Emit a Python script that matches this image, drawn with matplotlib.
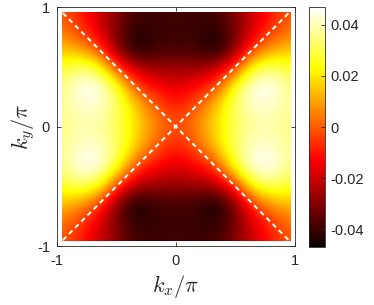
import numpy as np
import matplotlib
matplotlib.use("Agg")
import matplotlib.pyplot as plt
from matplotlib.patches import Rectangle

plt.rcParams["font.family"] = ["Liberation Sans", "DejaVu Sans"]
plt.rcParams["mathtext.fontset"] = "cm"
plt.rcParams["axes.unicode_minus"] = False

# grid in one quadrant (kx, ky >= 0), mirrored to the other three
k_quad = [0.0, 0.16, 0.32, 0.48, 0.64, 0.80, 0.96]

# each row: fixed ky, values for kx = k_quad
row_ky000 = [-0.003, 0.006, 0.017, 0.030, 0.038, 0.039, 0.035]
row_ky016 = [-0.009, -0.001, 0.015, 0.032, 0.042, 0.042, 0.036]
row_ky032 = [-0.017, -0.011, -0.003, 0.026, 0.047, 0.047, 0.035]
row_ky048 = [-0.026, -0.026, -0.022, -0.004, 0.028, 0.036, 0.028]
row_ky064 = [-0.039, -0.039, -0.047, -0.033, -0.003, 0.010, 0.015]
row_ky080 = [-0.040, -0.040, -0.043, -0.034, -0.018, -0.005, 0.004]
row_ky096 = [-0.039, -0.040, -0.039, -0.031, -0.019, -0.010, 0.000]

vmin, vmax = -0.047, 0.047
cbar_ticks = [-0.04, -0.02, 0, 0.02, 0.04]
cbar_labels = ["-0.04", "-0.02", "0", "0.02", "0.04"]
axis_ticks = [-1, 0, 1]

quad = np.array([row_ky000, row_ky016, row_ky032, row_ky048,
                 row_ky064, row_ky080, row_ky096])
half = np.hstack([quad[:, :0:-1], quad])
field = np.vstack([half[:0:-1, :], half])

step = k_quad[1] - k_quad[0]
edge = k_quad[-1]

fig = plt.figure(figsize=(3.74, 3.05), dpi=100)
ax = fig.add_axes([0.152, 0.193, 0.636, 0.784])
cax = fig.add_axes([0.826, 0.190, 0.043, 0.787])

im = ax.imshow(field, origin="lower", cmap="hot", vmin=vmin, vmax=vmax,
               interpolation="bicubic", aspect="auto",
               extent=[-edge - step / 2, edge + step / 2,
                       -edge - step / 2, edge + step / 2])
clip = Rectangle((-edge, -edge), 2 * edge, 2 * edge, transform=ax.transData)
im.set_clip_path(clip)

ax.plot([-0.95, 0.95], [-0.95, 0.95], color="white", lw=1.4, dashes=(2.5, 2))
ax.plot([-0.95, 0.95], [0.95, -0.95], color="white", lw=1.4, dashes=(2.5, 2))

ax.set_xlim(-1, 1)
ax.set_ylim(-1, 1)
ax.set_xticks(axis_ticks)
ax.set_yticks(axis_ticks)
ax.set_xticklabels(["-1", "0", "1"])
ax.set_yticklabels(["-1", "0", "1"])
ax.tick_params(direction="in", top=True, right=True, length=3, width=0.6,
               labelsize=10.5, colors="0.15")
ax.tick_params(axis="x", pad=6)
ax.tick_params(axis="y", pad=5)
for s in ax.spines.values():
    s.set_color("0.15")
    s.set_linewidth(0.6)

ax.set_xlabel(r"$k_x/\pi$", fontsize=16, color="0.15", labelpad=3)
ax.set_ylabel(r"$k_y/\pi$", fontsize=16, color="0.15", labelpad=0)

cb = fig.colorbar(im, cax=cax, ticks=cbar_ticks)
cb.ax.set_yticklabels(cbar_labels)
cb.ax.tick_params(direction="in", length=3, width=0.6, labelsize=10.5,
                  colors="0.15", pad=4)
cb.outline.set_edgecolor("0.15")
cb.outline.set_linewidth(0.6)

fig.savefig("out.png", dpi=100)
